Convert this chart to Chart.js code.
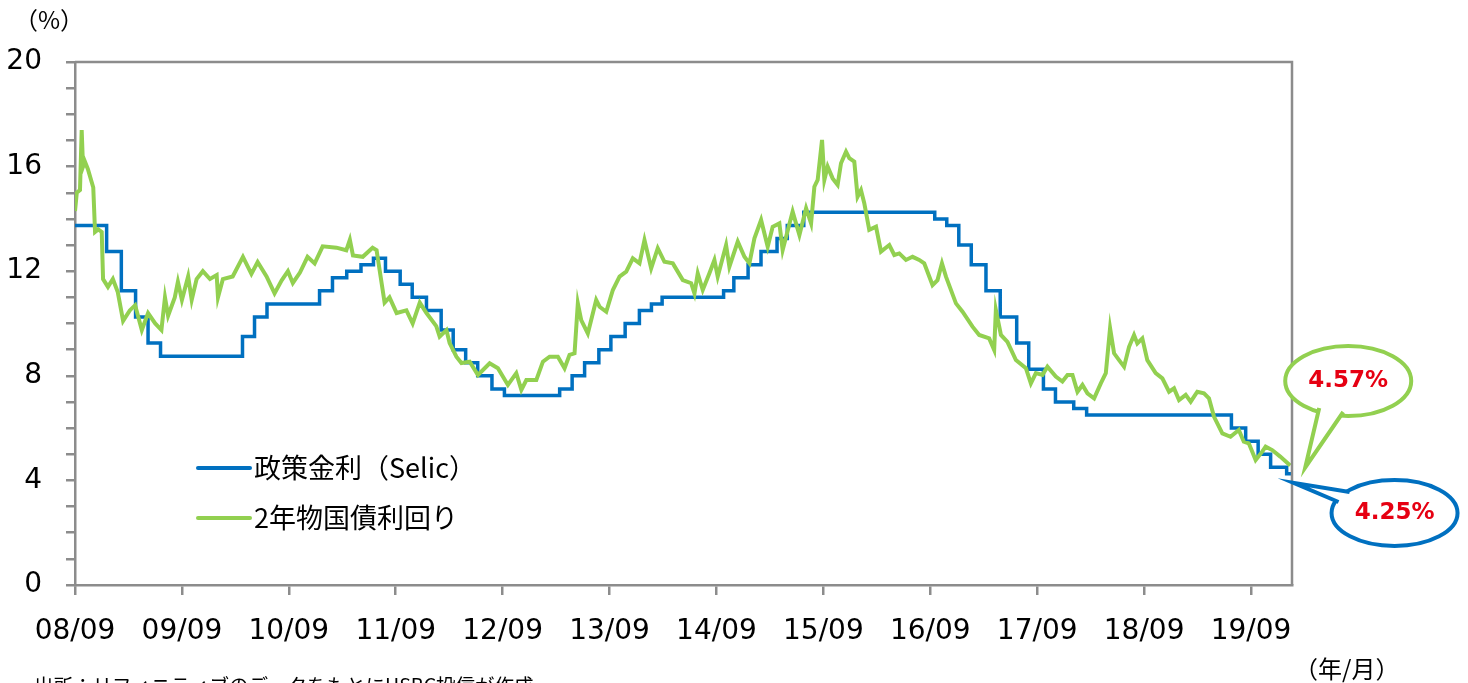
<!DOCTYPE html>
<html>
<head>
<meta charset="utf-8">
<script src="https://cdn.jsdelivr.net/npm/chart.js@4"></script>
<style>
  html, body { margin: 0; padding: 0; background: #fff; }
  #wrap { position: relative; width: 1468px; height: 683px; overflow: hidden; }
</style>
</head>
<body>
<div id="wrap"><canvas id="rateChart" width="1468" height="683"></canvas></div>
<script>
// months counted from the 08/09 tick
const xTickLabels = ['08/09', '09/09', '10/09', '11/09', '12/09', '13/09', '14/09', '15/09', '16/09', '17/09', '18/09', '19/09'];
const yTickLabels = [0, 4, 8, 12, 16, 20];

const selicMonths = [0, 3.55, 5.2, 6.8, 8.2, 9.6, 18.8, 20.15, 21.55, 27.45, 28.9, 30.5, 32.1, 33.5, 34.85, 36.5, 37.85, 39.45, 41.1, 42.45, 43.85, 45.2, 46.8, 48.2, 54.4, 55.8, 57.2, 58.8, 60.15, 61.75, 63.35, 64.7, 65.9, 72.8, 73.95, 75.55, 77.0, 78.8, 79.95, 81.8, 96.5, 97.85, 99.2, 100.6, 102.25, 103.85, 105.7, 107.05, 108.7, 110.05, 112.1, 113.55, 129.8, 131.4, 132.8, 134.2, 136.0, 136.55];
const selicRates = [13.75, 12.75, 11.25, 10.25, 9.25, 8.75, 9.5, 10.25, 10.75, 11.25, 11.75, 12.0, 12.25, 12.5, 12.0, 11.5, 11.0, 10.5, 9.75, 9.0, 8.5, 8.0, 7.5, 7.25, 7.5, 8.0, 8.5, 9.0, 9.5, 10.0, 10.5, 10.75, 11.0, 11.25, 11.75, 12.25, 12.75, 13.25, 13.75, 14.25, 14.0, 13.75, 13.0, 12.25, 11.25, 10.25, 9.25, 8.25, 7.5, 7.0, 6.75, 6.5, 6.0, 5.5, 5.0, 4.5, 4.25, 4.25];

const bondMonths = [0, 0.2, 0.56, 0.75, 0.9, 1.1, 1.45, 2.05, 2.25, 2.6, 3.0, 3.15, 3.7, 4.25, 4.8, 5.4, 6.15, 6.75, 7.5, 8.2, 9.0, 9.7, 10.1, 10.45, 11.2, 11.55, 12.0, 12.7, 13.1, 13.65, 14.35, 15.15, 15.9, 16.05, 16.6, 17.7, 18.85, 19.8, 20.5, 21.5, 22.4, 23.2, 23.9, 24.45, 25.25, 26.1, 26.9, 27.8, 29.35, 30.45, 30.85, 31.2, 32.3, 33.4, 33.85, 34.75, 35.3, 36.1, 37.2, 37.9, 38.7, 39.45, 40.55, 40.93, 41.69, 42.05, 42.81, 43.37, 44.3, 45.23, 46.54, 47.47, 48.59, 49.53, 50.1, 50.66, 51.78, 52.52, 53.27, 54.2, 54.95, 55.51, 56.07, 56.44, 56.82, 57.56, 58.5, 58.88, 59.63, 60.37, 61.12, 61.87, 62.61, 63.36, 63.92, 64.67, 65.41, 66.16, 67.1, 68.22, 69.16, 69.53, 69.9, 70.46, 71.21, 71.77, 72.14, 73.08, 73.45, 74.39, 75.14, 75.7, 76.26, 77.01, 77.75, 78.31, 79.06, 79.43, 80.55, 81.31, 82.06, 82.62, 82.99, 83.36, 83.85, 84.11, 84.48, 85.04, 85.6, 85.98, 86.54, 86.91, 87.47, 87.84, 88.22, 88.59, 89.15, 89.91, 90.47, 91.4, 91.96, 92.52, 93.27, 94.01, 94.76, 95.32, 96.25, 96.81, 97.31, 97.76, 98.88, 99.62, 100.74, 101.49, 102.61, 103.17, 103.36, 103.93, 104.66, 105.61, 106.73, 107.29, 107.85, 108.59, 109.15, 110.09, 110.83, 111.4, 111.96, 112.52, 113.08, 113.64, 114.39, 115.14, 115.7, 116.18, 116.63, 117.19, 117.75, 118.31, 118.87, 119.24, 119.8, 120.36, 121.3, 122.05, 122.8, 123.36, 123.92, 124.67, 125.23, 125.97, 126.72, 127.28, 127.84, 128.78, 129.7, 130.63, 131.19, 131.75, 132.52, 133.26, 133.64, 134.38, 135.28, 136.4];
const bondYields = [14.3, 15.0, 15.1, 17.4, 16.0, 16.2, 15.9, 15.2, 13.5, 13.6, 13.5, 11.7, 11.4, 11.7, 11.2, 10.1, 10.5, 10.7, 9.75, 10.4, 10.0, 9.75, 11.0, 10.3, 11.0, 11.6, 10.9, 11.8, 10.9, 11.7, 12.0, 11.7, 11.85, 11.0, 11.7, 11.8, 12.55, 11.9, 12.35, 11.8, 11.15, 11.65, 12.0, 11.55, 11.95, 12.55, 12.3, 12.95, 12.9, 12.8, 13.2, 12.6, 12.55, 12.9, 12.8, 10.8, 11.0, 10.4, 10.5, 10.0, 10.8, 10.4, 9.9, 9.5, 9.75, 9.25, 8.73, 8.49, 8.54, 8.03, 8.48, 8.29, 7.65, 8.1, 7.46, 7.84, 7.84, 8.54, 8.73, 8.73, 8.29, 8.8, 8.86, 10.77, 10.13, 9.62, 10.9, 10.64, 10.45, 11.28, 11.79, 11.98, 12.49, 12.3, 13.19, 12.11, 12.88, 12.36, 12.3, 11.66, 11.54, 11.15, 11.92, 11.28, 11.92, 12.43, 11.79, 13.0, 12.17, 13.13, 12.55, 12.3, 13.26, 13.96, 12.94, 13.7, 13.83, 12.81, 14.28, 13.38, 14.41, 13.83, 15.23, 15.49, 17.02, 15.49, 16.0, 15.55, 15.3, 16.13, 16.57, 16.32, 16.19, 14.85, 15.1, 14.6, 13.58, 13.7, 12.75, 13.0, 12.62, 12.68, 12.43, 12.55, 12.43, 12.3, 11.47, 11.66, 12.3, 11.79, 10.77, 10.45, 9.88, 9.56, 9.43, 8.99, 10.52, 9.56, 9.3, 8.6, 8.29, 7.71, 8.1, 8.03, 8.35, 7.97, 7.78, 8.03, 8.03, 7.39, 7.65, 7.33, 7.14, 7.71, 8.1, 9.82, 8.86, 8.6, 8.35, 9.11, 9.56, 9.24, 9.43, 8.6, 8.1, 7.9, 7.39, 7.52, 7.07, 7.27, 7.01, 7.39, 7.33, 7.14, 6.44, 5.8, 5.67, 5.93, 5.48, 5.42, 4.78, 5.1, 5.29, 5.16, 4.91, 4.57];

const seriesNames = ['政策金利（Selic）', '2年物国債利回り'];
const BLUE = '#0070C0';
const GREEN = '#92D050';
const AXIS = '#8c8c8c';
const RED = '#E60012';

// box, legend, callouts, side texts
const extras = {
  id: 'extras',
  afterDraw(chart) {
    const { ctx, chartArea: a, scales } = chart;
    ctx.save();

    ctx.strokeStyle = AXIS;
    ctx.lineWidth = 2.5;
    ctx.beginPath();
    ctx.moveTo(a.left, a.top);
    ctx.lineTo(a.right, a.top);
    ctx.lineTo(a.right, a.bottom);
    ctx.stroke();

    // legend
    const colors = [BLUE, GREEN];
    ctx.font = '27px "Noto Sans CJK JP"';
    ctx.textBaseline = 'middle';
    ctx.fillStyle = '#000';
    seriesNames.forEach((name, i) => {
      const y = 468 + i * 50;
      ctx.strokeStyle = colors[i];
      ctx.lineWidth = 4;
      ctx.lineCap = 'round';
      ctx.beginPath();
      ctx.moveTo(198, y);
      ctx.lineTo(250, y);
      ctx.stroke();
      ctx.fillText(name, 254, y);
    });
    ctx.lineCap = 'butt';

    // callouts at the last values
    const gx = scales.x.getPixelForValue(bondMonths[bondMonths.length - 1]);
    const gy = scales.y.getPixelForValue(bondYields[bondYields.length - 1]);
    const bx = scales.x.getPixelForValue(selicMonths[selicMonths.length - 1]);
    const by = scales.y.getPixelForValue(selicRates[selicRates.length - 1]);

    const bubble = (cx, cy, rx, ry, b1, b2, tip, color, text) => {
      ctx.lineWidth = 4;
      ctx.strokeStyle = color;
      ctx.fillStyle = '#fff';
      ctx.beginPath();
      ctx.ellipse(cx, cy, rx, ry, 0, 0, Math.PI * 2);
      ctx.fill();
      ctx.stroke();
      ctx.beginPath();
      ctx.moveTo(b1[0], b1[1]);
      ctx.lineTo(tip[0], tip[1]);
      ctx.lineTo(b2[0], b2[1]);
      ctx.closePath();
      ctx.fill();
      ctx.beginPath();
      ctx.moveTo(b1[0], b1[1]);
      ctx.lineTo(tip[0], tip[1]);
      ctx.lineTo(b2[0], b2[1]);
      ctx.stroke();
      ctx.fillStyle = RED;
      ctx.font = 'bold 23px "DejaVu Sans"';
      ctx.textAlign = 'center';
      ctx.textBaseline = 'middle';
      ctx.fillText(text, cx, cy);
    };

    bubble(gx + 58, 381, 63, 35, [gx + 29, 408], [gx + 53, 412], [gx + 15, gy + 2], GREEN,
      bondYields[bondYields.length - 1].toFixed(2) + '%');
    bubble(bx + 103, 513, 63, 33, [bx + 47, 502], [bx + 58, 492], [bx + 2, by + 9], BLUE,
      selicRates[selicRates.length - 1].toFixed(2) + '%');

    // unit labels and source
    ctx.fillStyle = '#000';
    ctx.textAlign = 'left';
    ctx.textBaseline = 'middle';
    ctx.font = '24px "Noto Sans CJK JP"';
    ctx.fillText('（%）', 14, 20);
    ctx.font = '24px "Noto Sans CJK JP"';
    ctx.fillText('（年/月）', 1294, 669);
    ctx.textBaseline = 'top';
    ctx.font = '19.5px "Noto Sans CJK JP"';
    ctx.fillText('出所：リフィニティブのデータをもとにHSBC投信が作成', 34, 676);

    ctx.restore();
  }
};

const ctx = document.getElementById('rateChart').getContext('2d');

new Chart(ctx, {
  type: 'line',
  data: {
    datasets: [{
      label: seriesNames[0],
      data: selicMonths.map((m, i) => ({ x: m, y: selicRates[i] })),
      borderColor: BLUE,
      borderWidth: 3.5,
      stepped: true,
      pointRadius: 0,
      order: 2
    }, {
      label: seriesNames[1],
      data: bondMonths.map((m, i) => ({ x: m, y: bondYields[i] })),
      borderColor: GREEN,
      borderWidth: 4,
      tension: 0,
      pointRadius: 0,
      order: 1
    }]
  },
  options: {
    responsive: false,
    animation: false,
    devicePixelRatio: 1,
    layout: { padding: { left: 0, top: 62, right: 176, bottom: 0 } },
    plugins: {
      legend: { display: false },
      tooltip: { enabled: false }
    },
    scales: {
      x: {
        type: 'linear',
        min: 0,
        max: 136.6,
        afterBuildTicks: (scale) => {
          scale.ticks = xTickLabels.map((_, i) => ({ value: i * 12 }));
        },
        afterFit: (scale) => { scale.height = 98; },
        ticks: {
          autoSkip: false,
          maxRotation: 0,
          padding: 20,
          color: '#000',
          font: { family: 'DejaVu Sans', size: 28 },
          callback: (v) => xTickLabels[Math.round(v / 12)]
        },
        grid: { drawOnChartArea: false, drawTicks: true, tickLength: 10, color: AXIS, lineWidth: 2.5 },
        border: { color: AXIS, width: 2.5 }
      },
      y: {
        min: 0,
        max: 20,
        afterFit: (scale) => { scale.width = 75; },
        ticks: {
          stepSize: 1,
          autoSkip: false,
          padding: 24,
          color: '#000',
          font: { family: 'DejaVu Sans', size: 28 },
          callback: (v) => yTickLabels.includes(v) ? String(v) : ''
        },
        grid: { drawOnChartArea: false, drawTicks: true, tickLength: 9, color: AXIS, lineWidth: 2.5 },
        border: { color: AXIS, width: 2.5 }
      }
    }
  },
  plugins: [extras]
});
</script>
</body>
</html>
